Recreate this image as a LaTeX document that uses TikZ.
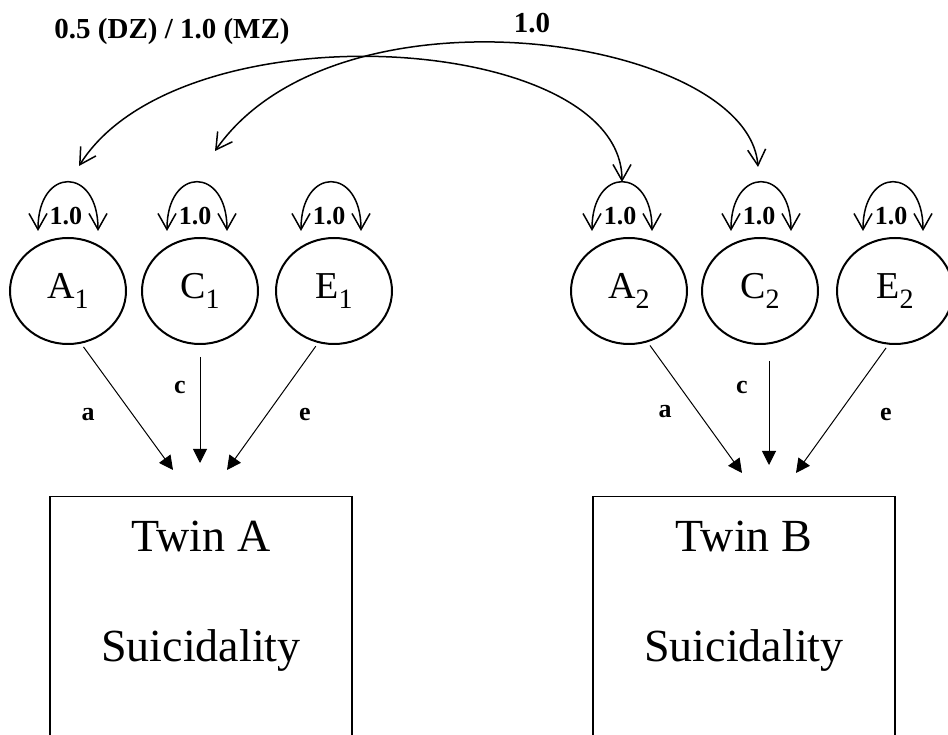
\documentclass[tikz,border=0pt]{standalone}
\usepackage{fontspec}
\setmainfont{Liberation Serif}
\usetikzlibrary{arrows.meta,shapes.geometric}

\newcommand{\lowidx}[1]{\raisebox{-5pt}{\fontsize{14}{14}\selectfont #1}}

\tikzset{
  latent/.style={ellipse, draw, line width=1pt, minimum width=58pt, minimum height=53pt,
    inner sep=0pt, font=\fontsize{19}{19}\selectfont},
  varloop/.style={{Straight Barb[length=8pt,width=9pt]}-{Straight Barb[length=8pt,width=9pt]}, line width=0.75pt},
  covpath/.style={{Straight Barb[length=8pt,width=9pt]}-{Straight Barb[length=8pt,width=9pt]}, line width=0.75pt},
  loading/.style={-{Triangle[length=7pt,width=7pt]}, line width=0.5pt},
  twinbox/.style={draw, line width=0.6pt, minimum width=151pt, minimum height=145pt, anchor=north, inner sep=0pt},
  twinlbl/.style={anchor=base, font=\fontsize{23}{23}\selectfont},
  numlbl/.style={font=\bfseries\fontsize{13}{13}\selectfont},
  toplbl/.style={font=\bfseries\fontsize{14.5}{14.5}\selectfont},
}

\begin{document}
\begin{tikzpicture}[x=0.5pt,y=0.5pt]
  \useasboundingbox (0,0) rectangle (948,734);
  \clip (0,0) rectangle (948,734);

  % latent factors
  \node[latent] (A1) at (68,443)  {A\lowidx{1}};
  \node[latent] (C1) at (200,443) {C\lowidx{1}};
  \node[latent] (E1) at (334,443) {E\lowidx{1}};
  \node[latent] (A2) at (629,443) {A\lowidx{2}};
  \node[latent] (C2) at (760,443) {C\lowidx{2}};
  \node[latent] (E2) at (895,443) {E\lowidx{2}};

  % variances
  \foreach \n/\dx in {A1/0,C1/-3,E1/-3,A2/-7,C2/1,E2/-2}{
    \draw[varloop] ([shift={(\dx-30,6)}]\n.north) .. controls +(0,65) and +(0,65) .. ([shift={(\dx+30,6)}]\n.north);
    \node[numlbl] at ([shift={(\dx-2,21)}]\n.north) {1.0};
  }

  % twin correlations
  \draw[covpath] ([shift={(11,71)}]A1.north) .. controls +(101,161) and +(0,150) .. ([shift={(-7,55)}]A2.north);
  \draw[covpath] ([shift={(15,86)}]C1.north) .. controls +(123,176) and +(-10,130) .. ([shift={(-2,70)}]C2.north);
  \node[toplbl] (rA) at (172,702) {0.5 (DZ) / 1.0 (MZ)};
  \node[toplbl] (rC) at (532,711) {1.0};

  % phenotypes
  \node[twinbox] (boxA) at (201,238) {};
  \node[twinbox] (boxB) at (744,238) {};
  \node[twinlbl] (twA) at ([yshift=-28pt]boxA.north) {Twin A};
  \node[twinlbl] (suA) at ([yshift=-82.5pt]boxA.north) {Suicidality};
  \node[twinlbl] (twB) at ([yshift=-28pt]boxB.north) {Twin B};
  \node[twinlbl] (suB) at ([yshift=-82.5pt]boxB.north) {Suicidality};

  % path ends
  \coordinate (aA) at (173,264);
  \coordinate (cA) at (200,271);
  \coordinate (eA) at (227,264);
  \coordinate (aB) at (742,261);
  \coordinate (cB) at (769,269);
  \coordinate (eB) at (796,261);

  \draw[loading, shorten <=2pt] (A1.-76) -- (aA);
  \draw[loading, shorten <=6pt] (cA |- C1.south) -- (cA);
  \draw[loading, shorten <=2pt] (E1.-107) -- (eA);
  \draw[loading, shorten <=2pt] (A2.-70) -- (aB);
  \draw[loading, shorten <=8pt] (cB |- C2.south) -- (cB);
  \draw[loading, shorten <=2pt] (E2.-97) -- (eB);

  \node[numlbl] at (88,319)  {a};
  \node[numlbl] at (180,347) {c};
  \node[numlbl] at (305,319) {e};
  \node[numlbl] at (665,322) {a};
  \node[numlbl] at (742,347) {c};
  \node[numlbl] at (886,319) {e};
\end{tikzpicture}
\end{document}
